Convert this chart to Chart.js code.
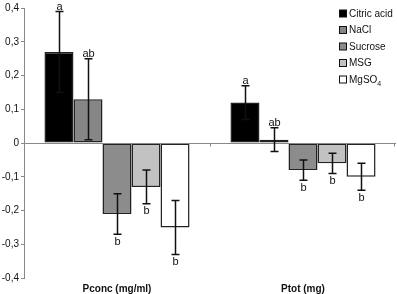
<!DOCTYPE html>
<html>
<head>
<meta charset="utf-8">
<script src="https://cdn.jsdelivr.net/npm/chart.js@4.4.1/dist/chart.umd.min.js"></script>
<style>
  html, body { margin: 0; padding: 0; background: #fff; }
  #wrap { width: 397px; height: 294px; }
</style>
</head>
<body>
<div id="wrap"><canvas id="myChart" width="397" height="294"></canvas></div>
<script>
// data
const categories = ['Pconc (mg/ml)', 'Ptot (mg)']
const seriesNames = ['Citric acid', 'NaCl', 'Sucrose', 'MSG', 'MgSO4']
const citric = [0.27, 0.12]
const nacl = [0.13, 0.01]
const sucrose = [-0.21, -0.08]
const msg = [-0.13, -0.06]
const mgso4 = [-0.25, -0.10]
// +/- error
const citricErr = [0.12, 0.05]
const naclErr = [0.12, 0.035]
const sucroseErr = [0.06, 0.03]
const msgErr = [0.05, 0.03]
const mgso4Err = [0.08, 0.04]
// significance letters
const letters = [['a', 'a'], ['ab', 'ab'], ['b', 'b'], ['b', 'b'], ['b', 'b']]
const yTicks = [-0.4, -0.3, -0.2, -0.1, 0, 0.1, 0.2, 0.3, 0.4]

const fills = ['#000000', '#868686', '#8c8c8c', '#c2c2c2', '#ffffff']
const allValues = [citric, nacl, sucrose, msg, mgso4]
const allErrors = [citricErr, naclErr, sucroseErr, msgErr, mgso4Err]

const font = 'Liberation Sans, Arial, sans-serif'

// error bars + letters
const errorPlugin = {
    id: 'errorBars',
    afterDatasetsDraw(chart) {
        const ctx = chart.ctx
        const y = chart.scales.y
        ctx.save()
        chart.data.datasets.forEach((ds, i) => {
            const meta = chart.getDatasetMeta(i)
            meta.data.forEach((bar, j) => {
                const v = allValues[i][j]
                const e = allErrors[i][j]
                const yTop = y.getPixelForValue(v + e)
                const yBot = y.getPixelForValue(v - e)
                const x = Math.round(bar.x) + 0.5
                ctx.strokeStyle = '#111'
                ctx.lineWidth = 1.5
                ctx.beginPath()
                ctx.moveTo(x, yTop); ctx.lineTo(x, yBot)
                ctx.moveTo(x - 4, yTop); ctx.lineTo(x + 4, yTop)
                ctx.moveTo(x - 4, yBot); ctx.lineTo(x + 4, yBot)
                ctx.stroke()
                ctx.fillStyle = '#111'
                ctx.font = '11px ' + font
                ctx.textAlign = 'center'
                if (v >= 0) {
                    ctx.textBaseline = 'bottom'
                    ctx.fillText(letters[i][j], x, yTop + 1)
                } else {
                    ctx.textBaseline = 'top'
                    ctx.fillText(letters[i][j], x, yBot + 2)
                }
            })
        })
        ctx.restore()
    }
}

// zero line with category ticks
const zeroLine = {
    id: 'zeroLine',
    afterDatasetsDraw(chart) {
        const ctx = chart.ctx
        const area = chart.chartArea
        const y0 = Math.round(chart.scales.y.getPixelForValue(0)) + 0.5
        ctx.save()
        ctx.strokeStyle = '#888'
        ctx.lineWidth = 1
        ctx.beginPath()
        ctx.moveTo(area.left, y0); ctx.lineTo(area.right, y0)
        const mid = Math.round((area.left + area.right) / 2) + 0.5
        ctx.moveTo(mid, y0); ctx.lineTo(mid, y0 + 3)
        ctx.moveTo(area.right - 1.5, y0); ctx.lineTo(area.right - 1.5, y0 + 3)
        ctx.stroke()
        ctx.restore()
    }
}

// legend in the top right corner
const legendPlugin = {
    id: 'cornerLegend',
    afterDraw(chart) {
        const ctx = chart.ctx
        ctx.save()
        ctx.font = '10px ' + font
        ctx.textBaseline = 'middle'
        ctx.textAlign = 'left'
        seriesNames.forEach((name, i) => {
            const cy = 14 + i * 16.5
            ctx.fillStyle = fills[i]
            ctx.fillRect(339.5, cy - 4, 7, 7)
            ctx.strokeStyle = '#111'
            ctx.lineWidth = 1
            ctx.strokeRect(339.5, cy - 4, 7, 7)
            ctx.fillStyle = '#111'
            if (name === 'MgSO4') {
                ctx.fillText('MgSO', 349, cy)
                const w = ctx.measureText('MgSO').width
                ctx.font = '7px ' + font
                ctx.fillText('4', 349 + w, cy + 4)
                ctx.font = '10px ' + font
            } else {
                ctx.fillText(name, 349, cy)
            }
        })
        ctx.restore()
    }
}

const ctx = document.getElementById('myChart')
new Chart(ctx, {
    type: 'bar',
    data: {
        labels: categories,
        datasets: seriesNames.map((name, i) => ({
            label: name,
            data: allValues[i],
            backgroundColor: fills[i],
            borderColor: '#222',
            borderWidth: 1.5,
            borderSkipped: false,
            categoryPercentage: 0.78,
            barPercentage: 1
        }))
    },
    options: {
        responsive: false,
        animation: false,
        layout: { padding: { top: 4, right: 1, left: 0, bottom: 0 } },
        plugins: {
            legend: { display: false },
            tooltip: { enabled: false }
        },
        scales: {
            x: {
                grid: { display: false, drawTicks: false },
                border: { display: false },
                ticks: {
                    color: '#111',
                    font: { family: font, size: 10, weight: 'bold' },
                    padding: 5
                },
                afterFit(scale) { scale.height = 16 }
            },
            y: {
                min: -0.4,
                max: 0.4,
                afterBuildTicks(scale) { scale.ticks = yTicks.map(v => ({ value: v })) },
                grid: { drawOnChartArea: false, drawTicks: true, tickLength: 3, color: '#888' },
                border: { display: true, color: '#888' },
                ticks: {
                    color: '#111',
                    font: { family: font, size: 10 },
                    padding: 2,
                    callback: v => (Math.round(v * 10) / 10).toString().replace('.', ',')
                },
                afterFit(scale) { scale.width = 24 }
            }
        }
    },
    plugins: [zeroLine, errorPlugin, legendPlugin]
})
</script>
</body>
</html>
